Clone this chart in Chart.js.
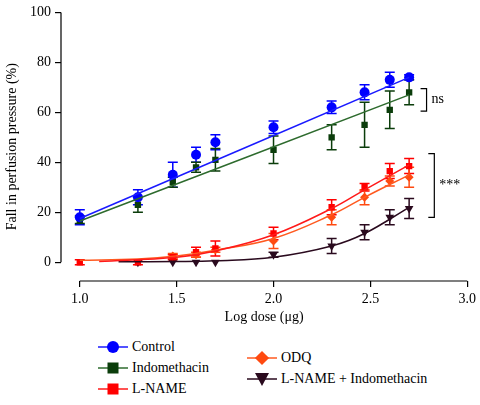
<!DOCTYPE html>
<html>
<head>
<meta charset="utf-8">
<script src="https://cdn.jsdelivr.net/npm/chart.js@4"></script>
<style>
  body { margin: 0; background: #fff; font-family: "Liberation Serif", "Times New Roman", "DejaVu Serif", serif; }
  #wrap { position: relative; width: 480px; height: 330px; }
  #legend { position: relative; width: 480px; height: 75px; font-size: 14px; color: #000; }
  .item { position: absolute; display: flex; align-items: center; }
  .item svg { margin-right: 4px; }
</style>
</head>
<body>
<div id="wrap"><canvas id="myChart" width="480" height="330"></canvas></div>
<div id="legend"></div>
<script>
const doses = [1.0, 1.3, 1.48, 1.6, 1.7, 2.0, 2.3, 2.47, 2.6, 2.7];
const xTicks = [1.0, 1.5, 2.0, 2.5, 3.0];
const yTicks = [0, 20, 40, 60, 80, 100];

const controlValues = [18, 26, 35, 43, 48, 54, 62, 68, 73, 74];
const controlErr = [3, 3, 5, 3, 3, 2.5, 2.5, 3, 3, 1];
const indoValues = [17, 23, 32, 38, 41, 45, 50, 55, 61, 68];
const indoErr = [1.5, 3, 2, 2, 4.5, 5.5, 5, 9, 7.5, 5];
const lnameValues = [0, 0, 2, 4, 5.5, 11.5, 22, 30, 36.5, 38.5];
const lnameErr = [1, 1, 1, 2, 3, 2.5, 3, 1.5, 3, 3];
const odqValues = [null, null, 2.5, 3, 5, 8.5, 18, 26, 32.5, 34];
const odqErr = [0, 0, 1, 1, 1, 3, 3, 3, 2, 4];
const lniValues = [null, 0, 0, 0, 0, 3, 6.5, 12, 18, 21.5];
const lniErr = [0, 0, 0, 0, 0, 1, 3, 3, 3, 4];

// fitted curves
const controlFitX = [1.0, 2.7];
const controlFitY = [17.5, 74];
const indoFitX = [1.0, 2.7];
const indoFitY = [16.5, 67];
const lnameFitX = [1.1, 1.5, 1.7, 2.0, 2.3, 2.47, 2.7];
const lnameFitY = [0.3, 2, 4.5, 11, 21.5, 29, 39];
const odqFitX = [1.0, 1.3, 1.5, 1.7, 2.0, 2.3, 2.47, 2.7];
const odqFitY = [0.8, 1.3, 2.5, 4.8, 9.5, 19, 26, 35];
const lniFitX = [1.2, 1.5, 1.7, 2.0, 2.3, 2.47, 2.7];
const lniFitY = [0.2, 0.3, 0.6, 2, 6.5, 11.5, 22];

const series = [
  {label: "Control", values: controlValues, err: controlErr, color: "#0000ff", line: "#1a1aff", style: "circle", r: 5, fx: controlFitX, fy: controlFitY},
  {label: "Indomethacin", values: indoValues, err: indoErr, color: "#0b3d0b", line: "#2e6b2e", style: "rect", r: 4.5, fx: indoFitX, fy: indoFitY},
  {label: "L-NAME", values: lnameValues, err: lnameErr, color: "#ff0000", line: "#ff1a1a", style: "rect", r: 4.5, fx: lnameFitX, fy: lnameFitY},
  {label: "ODQ", values: odqValues, err: odqErr, color: "#ff4a10", line: "#ff5a20", style: "rectRot", r: 4.5, fx: odqFitX, fy: odqFitY},
  {label: "L-NAME + Indomethacin", values: lniValues, err: lniErr, color: "#2a0a1e", line: "#2a0a1e", style: "triangle", r: 5, rot: 180, fx: lniFitX, fy: lniFitY},
];

const datasets = [];
series.forEach(s =>
{
  datasets.push({
    label: s.label + " fit",
    data: s.fx.map((x, i) => ({x: x, y: s.fy[i]})),
    borderColor: s.line, borderWidth: 1.5, pointRadius: 0, tension: 0.4, showLine: true, fill: false,
  });
});
series.forEach(s =>
{
  datasets.push({
    label: s.label,
    data: doses.map((x, i) => ({x: x, y: s.values[i]})).filter(p => p.y !== null),
    err: s.err,
    showLine: false,
    pointStyle: s.style, pointRadius: s.r, pointRotation: s.rot || 0,
    backgroundColor: s.color, borderColor: s.color, borderWidth: 0,
  });
});

const serif = "'Liberation Serif', 'Times New Roman', 'DejaVu Serif', serif";
const font = {family: serif, size: 14};

const extras = {
  id: "extras",
  beforeDatasetsDraw(chart)
  {
    const ctx = chart.ctx, x = chart.scales.x, y = chart.scales.y;
    ctx.save();
    chart.data.datasets.forEach(ds =>
    {
      if (!ds.err) return;
      ctx.strokeStyle = ds.borderColor;
      ctx.lineWidth = 1.5;
      ds.data.forEach(p =>
      {
        const e = ds.err[doses.indexOf(p.x)];
        if (!e) return;
        const px = x.getPixelForValue(p.x);
        const t = y.getPixelForValue(p.y + e), b = y.getPixelForValue(p.y - e);
        ctx.beginPath();
        ctx.moveTo(px, t); ctx.lineTo(px, b);
        ctx.moveTo(px - 5, t); ctx.lineTo(px + 5, t);
        ctx.moveTo(px - 5, b); ctx.lineTo(px + 5, b);
        ctx.stroke();
      });
    });
    ctx.restore();
  },
  afterDraw(chart)
  {
    const ctx = chart.ctx, x = chart.scales.x, y = chart.scales.y;
    ctx.save();
    ctx.strokeStyle = "#000";
    ctx.lineWidth = 1.2;
    // axis lines
    const a = chart.chartArea;
    ctx.beginPath();
    ctx.moveTo(a.left, y.getPixelForValue(0)); ctx.lineTo(a.left, y.getPixelForValue(100));
    ctx.moveTo(x.getPixelForValue(1.0), a.bottom); ctx.lineTo(x.getPixelForValue(3.0), a.bottom);
    ctx.stroke();
    // brackets
    const bracket = (xv, y1, y2, text, dy) =>
    {
      const px = x.getPixelForValue(xv), t = y.getPixelForValue(y2), b = y.getPixelForValue(y1);
      ctx.beginPath();
      ctx.moveTo(px - 6, t); ctx.lineTo(px, t); ctx.lineTo(px, b); ctx.lineTo(px - 6, b);
      ctx.stroke();
      ctx.fillStyle = "#000";
      ctx.font = "14px " + serif;
      ctx.textBaseline = "middle";
      ctx.fillText(text, px + 5, (t + b) / 2 + dy);
    };
    bracket(2.79, 60.5, 69.5, "ns", -1);
    bracket(2.83, 18, 43.5, "***", 0);
    ctx.restore();
  }
};

new Chart(document.getElementById("myChart"), {
  type: "scatter",
  data: {datasets: datasets},
  plugins: [extras],
  options: {
    responsive: false,
    animation: false,
    layout: {padding: {top: 7, right: 9}},
    plugins: {legend: {display: false}, tooltip: {enabled: false}},
    scales: {
      x: {
        type: "linear", min: 0.903, max: 3.0,
        afterBuildTicks: s => { s.ticks = xTicks.map(v => ({value: v})); },
        afterFit: s => { s.height = 49; },
        ticks: {font: font, color: "#000", padding: 4, callback: v => v.toFixed(1)},
        grid: {drawOnChartArea: false, tickLength: 6, color: "#000", lineWidth: 1.2},
        border: {display: false},
        title: {display: true, text: "Log dose (μg)", font: font, color: "#000", padding: {top: 2}},
      },
      y: {
        min: -7.5, max: 100,
        afterBuildTicks: s => { s.ticks = yTicks.map(v => ({value: v})); },
        afterFit: s => { s.width = 61; },
        ticks: {font: font, color: "#000", padding: 4},
        grid: {drawOnChartArea: false, tickLength: 6, color: "#000", lineWidth: 1.2},
        border: {display: false},
        title: {display: true, text: "Fall in perfusion pressure (%)", font: font, color: "#000", padding: {bottom: 2}},
      },
    },
  },
});

// legend
const legendPos = [[98, 17], [98, 38], [98, 59], [247, 28], [247, 49]];
const legend = document.getElementById("legend");
series.forEach((s, i) =>
{
  const marker = {
    circle: `<circle cx="15" cy="8" r="6" fill="${s.color}"/>`,
    rect: `<rect x="9.5" y="2.5" width="11" height="11" fill="${s.color}"/>`,
    rectRot: `<rect x="10" y="3" width="10" height="10" fill="${s.color}" transform="rotate(45 15 8)"/>`,
    triangle: `<polygon points="8,2 22,2 15,15" fill="${s.color}"/>`,
  }[s.style];
  const div = document.createElement("div");
  div.className = "item";
  div.style.left = legendPos[i][0] + "px";
  div.style.top = (legendPos[i][1] - 8) + "px";
  div.innerHTML = `<svg width="30" height="16"><line x1="0" y1="8" x2="30" y2="8" stroke="${s.line}" stroke-width="1.5"/>${marker}</svg><span>${s.label}</span>`;
  legend.appendChild(div);
});
</script>
</body>
</html>
